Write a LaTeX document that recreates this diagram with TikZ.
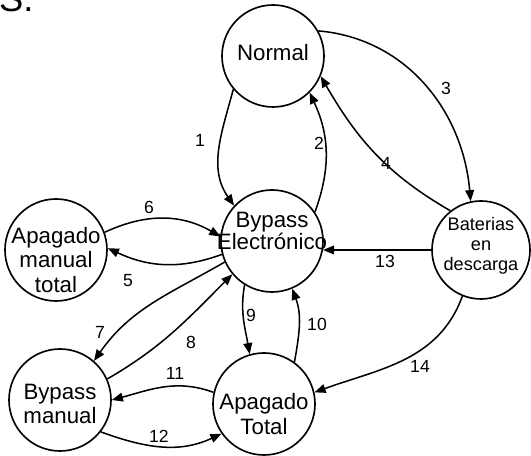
\documentclass[tikz,border=0pt]{standalone}
\usepackage{fontspec}
\setmainfont{Liberation Sans}
\usetikzlibrary{arrows.meta}
\tikzset{
    state/.style={circle,draw,line width=1.4pt,minimum size=3.06cm,inner sep=0pt},
    statetext/.style={align=center,inner sep=0pt,font=\fontsize{19}{21}\selectfont},
    trans/.style={line width=1.3pt,-{Triangle[length=9.5pt,width=7.5pt]}},
    num/.style={inner sep=0pt,font=\fontsize{15}{15}\selectfont}
}
\begin{document}
\begin{tikzpicture}[x=0.03cm,y=0.03cm]
    \clip (0,0) rectangle (531,456);
    \node[anchor=base west,inner sep=0pt,font=\fontsize{31}{31}\selectfont] (hdr) at (-1,444) {S.};
    \node[state] (N) at (273,400) {};
    \node[state] (B) at (272,215) {};
    \node[state] (A) at (56,206) {};
    \node[state] (M) at (60,56) {};
    \node[state] (T) at (264,52) {};
    \node[state,minimum size=2.94cm] (D) at (481,206) {};
    \node[statetext] (N-t) at (273,403) {Normal};
    \node[statetext,font=\fontsize{19}{19.5}\selectfont] (B-t) at (272,225) {Bypass\\Electrónico};
    \node[statetext] (A-t) at (56,196) {Apagado\\manual\\total};
    \node[statetext] (M-t) at (60,52) {Bypass\\manual};
    \node[statetext] (T-t) at (264,42) {Apagado\\Total};
    \node[statetext,font=\fontsize{15.5}{17}\selectfont] (D-t) at (481,210) {Baterias\\en\\descarga};
    \draw[trans] (N.220) to[out=255,in=125] (B.137);
    \draw[trans] (B.34) to[out=70,in=295] (N.315);
    \draw[trans] (N.29) to[out=355,in=95] (D.102);
    \draw[trans] (D.128) to[out=150,in=300] (N.337);
    \draw[trans] (B.195) to[out=200,in=335] (A.2);
    \draw[trans] (A.20) to[out=25,in=150] (B.175);
    \draw[trans] (B.204) to[out=210,in=55] (M.49);
    \draw[trans] (M.24) to[out=30,in=225] (B.220);
    \draw[trans] (B.238) to[out=260,in=100] (T.106);
    \draw[trans] (T.54) to[out=80,in=290] (B.293);
    \draw[trans] (T.167) to[out=160,in=15] (M.0);
    \draw[trans] (M.322) to[out=340,in=205] (T.215);
    \draw[trans] (D.180) -- (B.350);
    \draw[trans] (D.248) to[out=250,in=20] (T.13);
    \node[num] (l1) at (200,316) {1};
    \node[num] (l2) at (319,313) {2};
    \node[num] (l3) at (446,368) {3};
    \node[num] (l4) at (386,293) {4};
    \node[num] (l5) at (128,175) {5};
    \node[num] (l6) at (149,249) {6};
    \node[num] (l7) at (100,124) {7};
    \node[num] (l8) at (191,114) {8};
    \node[num] (l9) at (251,141) {9};
    \node[num] (l10) at (317,132) {10};
    \node[num] (l11) at (175,83) {11};
    \node[num] (l12) at (159,20) {12};
    \node[num] (l13) at (385,195) {13};
    \node[num] (l14) at (420,90) {14};
\end{tikzpicture}
\end{document}
